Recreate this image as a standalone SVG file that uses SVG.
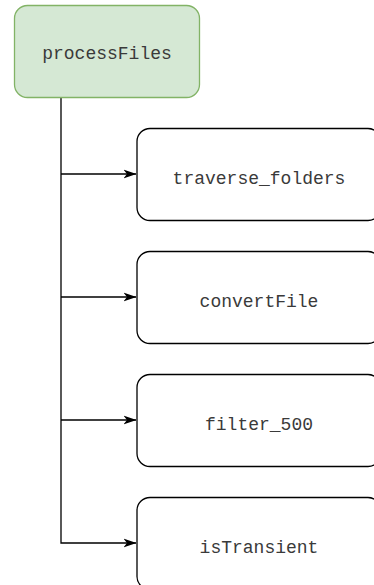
<svg xmlns="http://www.w3.org/2000/svg" width="374" height="585" viewBox="0 0 374 585">
<style>
.node{fill:#ffffff;stroke:#000000;stroke-width:1.3}
.root{fill:#d5e8d4;stroke:#82b366;stroke-width:1.3}
.lbl{font-family:"Liberation Mono","Courier New",monospace;font-size:18px;fill:#3a3a3a;text-anchor:middle;dominant-baseline:central}
.edge{fill:none;stroke:#000000;stroke-width:1.3}
</style>
<defs>
<marker id="arr" viewBox="0 0 13 10" refX="12.5" refY="5" markerWidth="13" markerHeight="10" markerUnits="userSpaceOnUse" orient="auto">
<path d="M0,0.5 L13,5 L0,9.5 L3.5,5 Z" fill="#000"/>
</marker>
</defs>
<g id="connectors">
<path class="edge" d="M61,98 V543 H136" marker-end="url(#arr)"/>
<path class="edge" d="M61,174 H136" marker-end="url(#arr)"/>
<path class="edge" d="M61,297 H136" marker-end="url(#arr)"/>
<path class="edge" d="M61,420 H136" marker-end="url(#arr)"/>
</g>
<g id="processFiles">
<rect class="root" x="14.5" y="5.5" width="185" height="92" rx="13"/>
<text class="lbl" x="107" y="54">processFiles</text>
</g>
<g id="traverse_folders">
<rect class="node" x="137" y="128.5" width="244" height="92" rx="13"/>
<text class="lbl" x="259" y="179">traverse_folders</text>
</g>
<g id="convertFile">
<rect class="node" x="137" y="251.5" width="244" height="92" rx="13"/>
<text class="lbl" x="259" y="302">convertFile</text>
</g>
<g id="filter_500">
<rect class="node" x="137" y="374.5" width="244" height="92" rx="13"/>
<text class="lbl" x="259" y="425">filter_500</text>
</g>
<g id="isTransient">
<rect class="node" x="137" y="497.5" width="244" height="92" rx="13"/>
<text class="lbl" x="259" y="548">isTransient</text>
</g>
</svg>
